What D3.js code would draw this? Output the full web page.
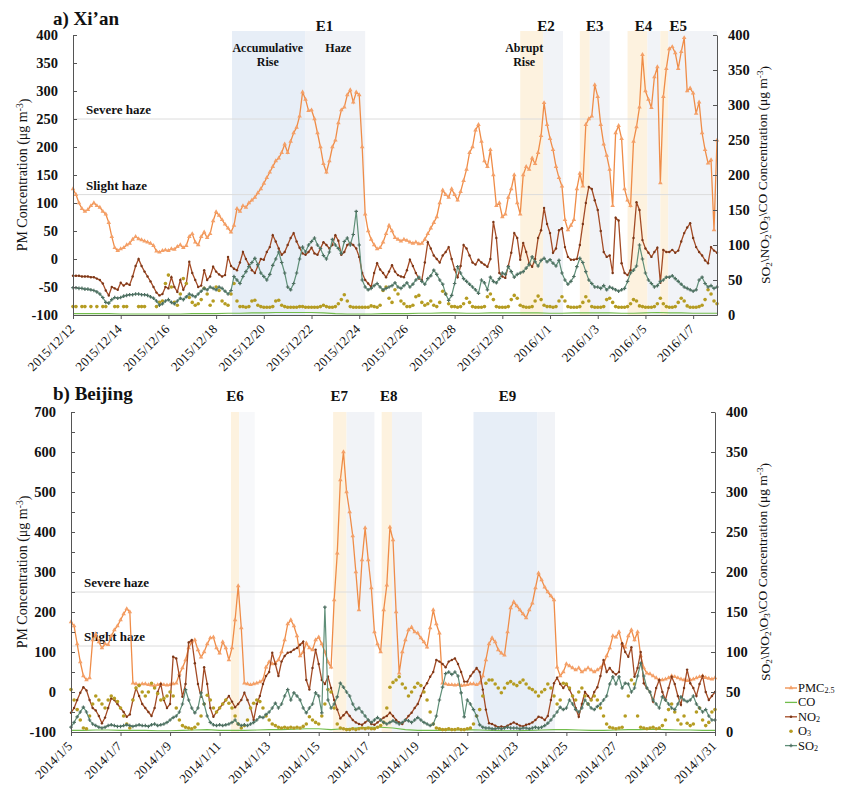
<!DOCTYPE html>
<html>
<head>
<meta charset="utf-8">
<script src="https://cdn.jsdelivr.net/npm/d3@7"></script>
<style>
  body { margin: 0; background: #fff; }
  svg text { font-family: "Liberation Serif", "Times New Roman", serif; fill: #111; }
</style>
</head>
<body>
<svg id="chart" width="841" height="788"></svg>
<script>
// ---------------- Xi'an: 3-hourly samples from 2015-12-12 00:00 ----------------
const xianStart = "2015-12-12T00:00";
const xianEnd = "2016-01-08T00:00";
const xianTicks = ["2015-12-12","2015-12-14","2015-12-16","2015-12-18","2015-12-20","2015-12-22","2015-12-24",
  "2015-12-26","2015-12-28","2015-12-30","2016-01-01","2016-01-03","2016-01-05","2016-01-07"];

const xianPM25 = [
  125,115,100,90,85,88,95,100,   95,92,85,80,65,40,20,15,   18,20,25,28,35,40,36,34,
  32,30,28,24,14,12,15,16,       15,18,17,22,25,20,24,40,   45,30,25,40,48,38,45,68,
  84,78,70,62,55,48,60,90,       85,95,92,100,105,110,118,125, 135,145,155,165,175,180,190,205,
  190,210,225,235,255,298,285,265, 266,250,225,200,170,155,175,200, 212,243,266,271,293,302,280,298,
  293,200,80,50,35,25,18,20,     30,45,60,50,38,35,32,35,   33,30,28,30,27,28,35,45,
  55,65,75,100,123,115,110,125,  115,105,120,140,160,190,200,230, 240,210,175,165,195,150,95,100,
  75,80,110,125,150,100,80,150,  165,160,180,170,190,220,279,240, 215,195,165,145,130,70,52,60,
  70,125,153,130,240,250,255,311, 290,240,205,185,160,95,225,238, 215,125,105,95,210,236,271,365,
  300,285,270,325,343,136,290,340, 375,379,368,340,370,395,300,305, 296,260,280,225,195,171,177,52,212
];
const xianNO2 = [
  56,56,56,55,55,55,54,54,   52,50,45,35,28,40,38,36,   46,42,45,43,55,70,80,70,
  62,55,48,40,32,28,30,40,   38,54,40,33,50,36,45,76,   60,50,40,42,64,50,55,69,
  62,58,55,57,83,70,66,64,   75,90,80,72,64,60,70,80,   79,90,97,114,105,95,86,90,
  100,110,117,105,96,88,86,90, 96,88,86,95,104,100,95,100, 114,106,86,90,100,103,100,95,
  83,60,50,45,40,60,74,65,   60,54,62,71,62,57,55,54,   64,79,70,60,52,50,75,104,
  95,85,80,75,85,90,97,80,   65,54,70,100,95,85,75,72,  79,75,72,69,80,133,110,60,
  55,53,70,89,117,110,79,103, 90,74,69,80,110,121,153,130, 117,89,95,121,124,97,83,79,
  79,80,100,130,160,183,180,164, 150,120,90,83,85,60,139,135, 74,60,57,64,110,161,150,107,
  95,89,83,90,96,46,93,90,   90,93,89,92,105,117,125,131, 110,97,90,85,78,74,97,92,89
];
const xianSO2 = [
  39,39,38,38,37,37,36,35,   33,30,25,18,17,22,25,24,   25,27,28,29,29,30,30,29,
  29,28,26,24,20,14,16,20,   22,18,16,20,24,22,26,30,   28,26,30,34,38,36,40,38,
  36,40,38,34,30,35,55,50,   45,55,62,69,75,81,72,60,   55,50,58,71,80,90,75,60,
  40,36,45,60,80,97,90,100,  105,110,100,95,85,80,90,108, 100,95,88,105,110,100,115,148,
  100,50,40,36,38,42,45,40,  36,38,40,42,46,40,38,42,   46,40,44,50,54,48,44,52,
  56,64,58,50,44,30,21,28,   45,69,60,52,48,44,40,36,   31,50,46,36,54,48,46,52,
  60,58,69,62,54,58,60,62,   67,72,83,76,70,78,81,76,   79,74,70,78,60,50,44,48,
  55,69,81,75,62,50,45,40,   40,38,42,36,40,38,36,34,   36,38,48,60,64,70,100,80,
  60,50,45,40,42,48,50,54,   54,56,52,48,44,40,38,36,   34,36,50,54,45,40,42,38,40
];
const xianO3 = [
  12,12,null,12,12,null,12,null, 12,null,12,12,null,null,12,12, null,12,12,null,null,null,12,12,
  12,null,null,null,12,18,20,45, 57,40,18,14,30,52,45,25,   18,14,16,22,38,30,14,20,
  40,35,20,16,14,30,45,20,   12,12,11,12,20,21,14,12,   11,11,11,12,20,21,14,12,
  11,11,11,11,12,12,11,11,   11,11,11,12,14,12,11,11,   12,16,22,29,20,12,11,11,
  11,11,11,11,13,12,11,14,   35,40,24,18,36,30,20,16,   12,12,14,26,28,18,14,16,
  20,14,12,18,34,30,16,12,   12,11,12,16,24,18,12,11,   11,11,12,26,30,22,12,11,
  11,11,12,22,28,24,14,12,   11,11,12,20,27,22,14,12,   12,11,12,20,26,20,12,11,
  11,11,12,18,26,20,12,11,   11,11,12,22,24,18,12,11,   11,11,12,16,22,20,13,12,
  11,11,11,12,16,24,16,12,   11,11,12,18,24,20,13,11,   11,11,12,14,22,36,30,20,16
];
// CO sampled every 12 hours
const xianCO = [
  2,2,2,2,1.5,1.5,1.5,1.5,1.5,1.5,2,2,2,2.5,2.5,3,3,3.5,3.5,3.5,3.5,3,2,1.5,1.5,1.5,2,
  2,2,2.5,2.5,3,3,2.5,2.5,3,3,3,3,3,2.5,2.5,3,3,3,3,2.5,2.5,3,3.5,3,3,2.5,2.5,2.5
];
const xianSpans = [
  ["2015-12-18T16:00","2015-12-21T18:00","blue"], ["2015-12-21T18:00","2015-12-24T06:00","grey"],
  ["2015-12-30T18:00","2015-12-31T17:00","yellow"], ["2015-12-31T17:00","2016-01-01T13:00","grey"],
  ["2016-01-02T06:00","2016-01-02T16:00","yellow"], ["2016-01-02T16:00","2016-01-03T12:00","grey"],
  ["2016-01-04T06:00","2016-01-05T02:00","yellow"], ["2016-01-05T02:00","2016-01-05T15:00","grey"],
  ["2016-01-05T15:00","2016-01-05T23:00","yellow"], ["2016-01-05T23:00","2016-01-08T00:00","grey"]
];
const xianEvents = [["E1","2015-12-22T13:00"],["E2","2015-12-31T20:00"],["E3","2016-01-02T21:00"],
  ["E4","2016-01-04T22:00"],["E5","2016-01-06T09:00"]];
const xianPhases = [[["Accumulative","Rise"],"2015-12-20T04:00"],[["Haze"],"2015-12-23T03:00"],
  [["Abrupt","Rise"],"2015-12-30T22:00"]];

// ---------------- Beijing: 3-hourly samples from 2014-01-05 00:00 ----------------
const bjStart = "2014-01-05T00:00";
const bjEnd = "2014-01-31T00:00";
const bjTicks = ["2014-01-05","2014-01-07","2014-01-09","2014-01-11","2014-01-13","2014-01-15","2014-01-17",
  "2014-01-19","2014-01-21","2014-01-23","2014-01-25","2014-01-27","2014-01-29","2014-01-31"];

const bjPM25 = [
  175,165,120,75,40,30,35,130,    145,125,110,120,118,140,155,165, 180,195,208,200,22,20,18,20,
  20,18,17,16,18,20,18,17,        18,20,22,45,60,80,110,125,       130,105,87,100,120,135,137,110,
  97,125,110,80,110,180,265,160,  22,20,18,20,22,25,30,62,         75,70,72,80,100,130,170,180,
  165,140,90,100,122,110,105,130, 137,120,100,75,62,230,347,530,   600,500,450,390,300,205,330,410,
  330,260,150,120,100,205,267,412, 380,200,47,100,130,155,162,150, 147,135,125,112,160,205,170,147,
  22,20,18,18,17,18,16,17,        18,20,20,18,22,40,80,120,        135,125,105,97,92,150,210,225,
  215,205,195,185,205,222,260,297, 280,262,250,240,230,62,40,50,   70,65,60,55,60,50,55,60,
  55,50,55,60,70,90,110,140,      137,150,120,112,140,155,130,150, 90,60,47,45,40,35,30,30,
  32,35,40,38,35,32,30,28,        30,32,35,38,40,36,34,32,         35
];
const bjNO2 = [
  24,30,40,49,56,52,40,30,   27,20,11,18,30,42,40,35,   30,25,19,22,40,55,45,35,
  30,25,20,30,50,60,40,30,   35,94,92,70,44,60,112,115, 86,60,44,81,60,30,19,25,
  30,35,40,45,38,31,35,40,   49,40,30,15,35,45,60,70,   75,99,85,70,88,95,99,100,
  103,105,109,113,65,53,80,103, 85,65,60,69,55,40,28,17, 21,25,20,15,12,10,9,12,
  15,10,9,12,15,18,20,24,    20,15,12,10,15,20,24,30,   35,45,55,61,69,75,90,88,
  85,81,88,90,92,85,75,63,   63,70,75,80,75,53,28,11,   10,8,6,7,6,8,10,12,
  10,8,7,9,10,12,15,19,      18,15,20,40,61,68,60,55,   60,53,45,30,19,35,50,45,
  40,50,56,70,90,75,80,75,   72,75,111,100,94,106,69,80, 100,61,55,50,38,55,65,50,
  40,55,69,60,45,34,55,78,   61,55,45,60,70,50,40,45,   50
];
const bjSO2 = [
  6,12,19,25,31,25,15,10,    8,6,5,6,8,9,8,7,           7,8,9,8,7,8,9,8,
  8,7,9,10,8,9,10,12,        15,18,20,25,35,53,40,30,   24,30,49,35,20,12,9,8,
  9,8,9,10,12,15,10,8,       9,8,10,12,15,19,18,22,     25,30,36,30,35,45,53,40,
  49,45,40,30,24,30,35,49,   45,24,156,40,30,35,44,61,  56,50,45,35,28,30,25,20,
  15,12,15,18,15,12,10,12,   14,12,10,12,15,14,12,15,   18,15,12,10,8,10,20,40,
  56,73,75,72,75,70,49,19,   40,35,28,20,9,6,5,5,       4,4,5,4,5,6,5,5,
  5,4,5,5,4,5,6,5,           6,8,11,15,20,25,31,28,     30,40,35,28,25,30,40,35,
  30,28,32,35,40,45,60,69,   60,69,55,61,60,50,55,70,   86,70,55,50,40,35,30,44,
  40,35,30,28,35,44,40,38,   40,45,35,30,25,28,20,15,   15
];
const bjO3 = [
  53,40,28,15,5,4,20,35,     45,40,35,30,40,45,42,38,   30,20,10,5,40,55,58,50,
  45,50,61,55,48,40,42,45,   50,45,30,15,8,6,5,4,       6,10,20,35,46,40,30,25,
  30,35,40,36,30,20,10,5,    8,15,30,36,40,38,30,20,    15,10,8,6,5,6,5,6,
  5,6,5,7,10,19,15,12,       10,20,35,53,50,30,10,5,    4,3,3,4,3,4,5,4,
  5,4,4,6,8,12,30,56,        62,65,69,60,55,45,50,56,   61,58,50,40,25,10,5,4,
  3,3,4,3,3,4,3,3,           4,5,10,20,28,45,61,65,     65,60,55,49,55,61,63,60,
  58,62,65,60,55,53,50,45,   50,53,60,55,45,35,40,61,   60,55,45,40,50,55,45,35,
  40,45,40,30,20,10,6,5,     4,5,6,20,45,65,60,20,      6,5,4,5,6,4,5,8,
  15,28,35,25,15,10,20,11,   8,10,25,30,15,8,12,25,     28
];
// CO sampled every 12 hours
const bjCO = [
  2,2,2.5,2.5,2,2,2,1.5,1.5,2,2.5,3,2,2,2,2.5,3,3,3.5,4,4,3,4,5,6,6,5,
  3,2,2,2,2.5,3,2.5,2,1.5,1.5,2,2.5,3,3,2.5,2,2,2.5,3,3,3.5,3,2.5,2.5,2,2
];
const bjSpans = [
  ["2014-01-11T11:00","2014-01-11T19:00","yellow"], ["2014-01-11T19:00","2014-01-12T10:00","faint"],
  ["2014-01-15T14:00","2014-01-16T03:00","yellow"], ["2014-01-16T03:00","2014-01-17T06:00","grey"],
  ["2014-01-17T13:00","2014-01-17T23:00","yellow"], ["2014-01-17T23:00","2014-01-19T04:00","grey"],
  ["2014-01-21T06:00","2014-01-23T20:00","blue"],   ["2014-01-23T20:00","2014-01-24T13:00","grey"]
];
const bjEvents = [["E6","2014-01-11T15:00"],["E7","2014-01-15T20:00"],["E8","2014-01-17T20:00"],["E9","2014-01-22T15:00"]];

// haze thresholds on the PM axis
const hazeLevels = [["Severe haze", 250], ["Slight haze", 115]];

// ---------------- drawing ----------------
const parseT = d3.timeParse("%Y-%m-%dT%H:%M");
const parseD = d3.timeParse("%Y-%m-%d");
const fmtTick = d3.timeFormat("%Y/%-m/%-d");

const COLORS = {
  pm: "#ef8c47", pmMark: "#f4a068",
  co: "#72bd4c",
  no2: "#a34b25", no2Mark: "#7b3718",
  o3: "#b59c22",
  so2: "#5f8f78", so2Mark: "#4d6e60",
  blue: "#e7eef7", grey: "#f1f3f7", yellow: "#fdf2df", faint: "#f7f8fa",
  axis: "#555", thresh: "#dcdcdc"
};

const svg = d3.select("#chart");
svg.append("rect").attr("width", 841).attr("height", 788).attr("fill", "#fff");

function addTitleWithScripts(sel, parts) {
  // parts: [text, shift] where shift is "sub", "sup" or a return to the baseline
  parts.forEach(([t, s]) => {
    const ts = sel.append("tspan").text(t);
    if (s === "sub") ts.attr("font-size", "0.68em").attr("dy", "0.25em");
    if (s === "sup") ts.attr("font-size", "0.68em").attr("dy", "-0.45em");
    if (s === "back-sub") ts.attr("dy", "-0.25em");
    if (s === "back-sup") ts.attr("dy", "0.45em");
  });
}

function drawPanel(cfg) {
  const g = svg.append("g");
  const x = d3.scaleTime().domain([parseT(cfg.start), parseT(cfg.end)]).range([cfg.x0, cfg.x1]);
  const yL = d3.scaleLinear().domain(cfg.leftDomain).range([cfg.yBot, cfg.yTop]);
  const yR = d3.scaleLinear().domain([0, 400]).range([cfg.yBot, cfg.yTop]);
  const t0 = parseT(cfg.start);
  const at = (i, step) => d3.timeHour.offset(t0, i * step);

  // event shading
  g.selectAll("rect.span").data(cfg.spans).join("rect")
    .attr("x", d => x(parseT(d[0])))
    .attr("width", d => x(parseT(d[1])) - x(parseT(d[0])))
    .attr("y", cfg.shadeTop).attr("height", cfg.yBot - cfg.shadeTop)
    .attr("fill", d => COLORS[d[2]]);

  // haze threshold lines
  hazeLevels.forEach(([label, v]) => {
    g.append("line").attr("x1", cfg.x0).attr("x2", cfg.x1)
      .attr("y1", yL(v)).attr("y2", yL(v))
      .attr("stroke", COLORS.thresh).attr("stroke-width", 1);
    g.append("text").attr("x", cfg.x0 + 13).attr("y", yL(v) - 5)
      .attr("font-size", 13).attr("font-weight", "bold").text(label);
  });

  // PM2.5 line with triangle markers (left axis)
  const pmPts = cfg.pm.map((v, i) => [at(i, 3), v]);
  g.append("path").datum(pmPts)
    .attr("d", d3.line().x(d => x(d[0])).y(d => yL(d[1])))
    .attr("fill", "none").attr("stroke", COLORS.pm).attr("stroke-width", 1.3);
  g.selectAll("path.pm").data(pmPts).join("path")
    .attr("transform", d => `translate(${x(d[0])},${yL(d[1])})`)
    .attr("d", d3.symbol(d3.symbolTriangle, 9))
    .attr("fill", COLORS.pmMark);

  // CO (right axis), thin line
  const coPts = cfg.co.map((v, i) => [at(i, 12), v]);
  g.append("path").datum(coPts)
    .attr("d", d3.line().x(d => x(d[0])).y(d => yR(d[1])))
    .attr("fill", "none").attr("stroke", COLORS.co).attr("stroke-width", 1.1);

  // NO2 (right axis)
  const no2Pts = cfg.no2.map((v, i) => [at(i, 3), v]);
  g.append("path").datum(no2Pts)
    .attr("d", d3.line().x(d => x(d[0])).y(d => yR(d[1])))
    .attr("fill", "none").attr("stroke", COLORS.no2).attr("stroke-width", 1.3);
  g.selectAll("circle.no2").data(no2Pts).join("circle")
    .attr("cx", d => x(d[0])).attr("cy", d => yR(d[1])).attr("r", 1.2)
    .attr("fill", COLORS.no2Mark);

  // O3 (right axis), dots only
  const o3Pts = cfg.o3.map((v, i) => [at(i, 3), v]).filter(d => d[1] !== null);
  g.selectAll("circle.o3").data(o3Pts).join("circle")
    .attr("cx", d => x(d[0])).attr("cy", d => yR(d[1])).attr("r", 1.8)
    .attr("fill", COLORS.o3);

  // SO2 (right axis)
  const so2Pts = cfg.so2.map((v, i) => [at(i, 3), v]);
  g.append("path").datum(so2Pts)
    .attr("d", d3.line().x(d => x(d[0])).y(d => yR(d[1])))
    .attr("fill", "none").attr("stroke", COLORS.so2).attr("stroke-width", 1.2);
  g.selectAll("path.so2").data(so2Pts).join("path")
    .attr("transform", d => `translate(${x(d[0])},${yR(d[1])})`)
    .attr("d", d3.symbol(d3.symbolCross, 7))
    .attr("fill", COLORS.so2Mark);

  // axes
  const leftAxis = d3.axisLeft(yL).tickValues(cfg.leftTicks).tickSizeInner(-4).tickSizeOuter(0)
    .tickPadding(15).tickFormat(d => cfg.leftLabels.includes(d) ? d : "");
  const ga = g.append("g").attr("transform", `translate(${cfg.x0},0)`).call(leftAxis);
  const rightAxis = d3.axisRight(yR).tickValues(d3.range(0, 401, 50)).tickSizeInner(-4).tickSizeOuter(0)
    .tickPadding(11);
  const gr = g.append("g").attr("transform", `translate(${cfg.x1},0)`).call(rightAxis);
  [ga, gr].forEach(a => {
    a.selectAll("path, line").attr("stroke", COLORS.axis);
    a.selectAll("text").attr("font-size", 14.5).attr("font-weight", "bold")
      .attr("font-family", "'Liberation Serif', serif").attr("fill", "#111");
  });

  const ticks = cfg.ticks.map(parseD);
  const bottomAxis = d3.axisBottom(x).tickValues(ticks).tickSizeInner(4).tickSizeOuter(0).tickFormat("");
  const gb = g.append("g").attr("transform", `translate(0,${cfg.yBot})`).call(bottomAxis);
  gb.selectAll("path, line").attr("stroke", COLORS.axis);
  g.selectAll("text.xlab").data(ticks).join("text")
    .attr("transform", d => `translate(${x(d) + 2},${cfg.yBot + 15}) rotate(-45)`)
    .attr("text-anchor", "end").attr("font-size", 13).text(d => fmtTick(d));

  // panel title
  g.append("text").attr("x", cfg.titleX).attr("y", cfg.titleY)
    .attr("font-size", 19).attr("font-weight", "bold").text(cfg.title);

  // axis titles
  const cy = (cfg.yTop + cfg.yBot) / 2;
  const lt = g.append("text").attr("transform", `translate(27,${cy}) rotate(-90)`)
    .attr("text-anchor", "middle").attr("font-size", 14);
  addTitleWithScripts(lt, [["PM Concentration (μg m", null], ["-3", "sup"], [")", "back-sup"]]);
  const rt = g.append("text").attr("transform", `translate(770,${cy}) rotate(-90)`)
    .attr("text-anchor", "middle").attr("font-size", 13.5);
  addTitleWithScripts(rt, [["SO", null], ["2", "sub"], ["\\NO", "back-sub"], ["2", "sub"], ["\\O", "back-sub"],
    ["3", "sub"], ["\\CO Concentration (μg m", "back-sub"], ["-3", "sup"], [")", "back-sup"]]);

  // event labels
  g.selectAll("text.ev").data(cfg.events).join("text")
    .attr("x", d => x(parseT(d[1]))).attr("y", cfg.eventY)
    .attr("text-anchor", "middle").attr("font-size", 15).attr("font-weight", "bold")
    .text(d => d[0]);
  (cfg.phases || []).forEach(([lines, when]) => {
    lines.forEach((ln, k) => {
      g.append("text").attr("x", x(parseT(when))).attr("y", cfg.yTop + 17 + k * 14)
        .attr("text-anchor", "middle").attr("font-size", 12).attr("font-weight", "bold").text(ln);
    });
  });
}

drawPanel({
  title: "a) Xi’an", titleX: 53, titleY: 25,
  start: xianStart, end: xianEnd, ticks: xianTicks,
  x0: 73, x1: 717, yTop: 35, yBot: 315, shadeTop: 31, eventY: 31,
  leftDomain: [-100, 400], leftTicks: d3.range(-100, 401, 50), leftLabels: d3.range(-100, 401, 50),
  pm: xianPM25, no2: xianNO2, so2: xianSO2, o3: xianO3, co: xianCO,
  spans: xianSpans, events: xianEvents, phases: xianPhases
});

drawPanel({
  title: "b) Beijing", titleX: 53, titleY: 400,
  start: bjStart, end: bjEnd, ticks: bjTicks,
  x0: 71, x1: 715, yTop: 412, yBot: 732, shadeTop: 412, eventY: 401,
  leftDomain: [-100, 700], leftTicks: d3.range(-100, 701, 50), leftLabels: d3.range(-100, 701, 100),
  pm: bjPM25, no2: bjNO2, so2: bjSO2, o3: bjO3, co: bjCO,
  spans: bjSpans, events: bjEvents, phases: []
});

// legend
const legendItems = [
  { key: "pm", parts: [["PMC", null], ["2.5", "sub"]] },
  { key: "co", parts: [["CO", null]] },
  { key: "no2", parts: [["NO", null], ["2", "sub"]] },
  { key: "o3", parts: [["O", null], ["3", "sub"]] },
  { key: "so2", parts: [["SO", null], ["2", "sub"]] }
];
const lg = svg.append("g").attr("transform", "translate(785,688)");
legendItems.forEach((it, i) => {
  const row = lg.append("g").attr("transform", `translate(0,${i * 14.4})`);
  if (it.key !== "o3") {
    row.append("line").attr("x1", 0).attr("x2", 12).attr("y1", 0).attr("y2", 0)
      .attr("stroke", COLORS[it.key]).attr("stroke-width", 1.3);
  }
  if (it.key === "pm") row.append("path").attr("transform", "translate(6,0)")
    .attr("d", d3.symbol(d3.symbolTriangle, 9)).attr("fill", COLORS.pmMark);
  if (it.key === "no2") row.append("circle").attr("cx", 6).attr("r", 1.3).attr("fill", COLORS.no2Mark);
  if (it.key === "so2") row.append("path").attr("transform", "translate(6,0)")
    .attr("d", d3.symbol(d3.symbolCross, 7)).attr("fill", COLORS.so2Mark);
  if (it.key === "o3") row.append("circle").attr("cx", 6).attr("r", 1.8).attr("fill", COLORS.o3);
  const t = row.append("text").attr("x", 13).attr("y", 4).attr("font-size", 12.5);
  it.parts.forEach(([txt, s]) => {
    const ts = t.append("tspan").text(txt);
    if (s === "sub") ts.attr("font-size", "0.65em").attr("dy", "0.15em");
  });
});
</script>
</body>
</html>
